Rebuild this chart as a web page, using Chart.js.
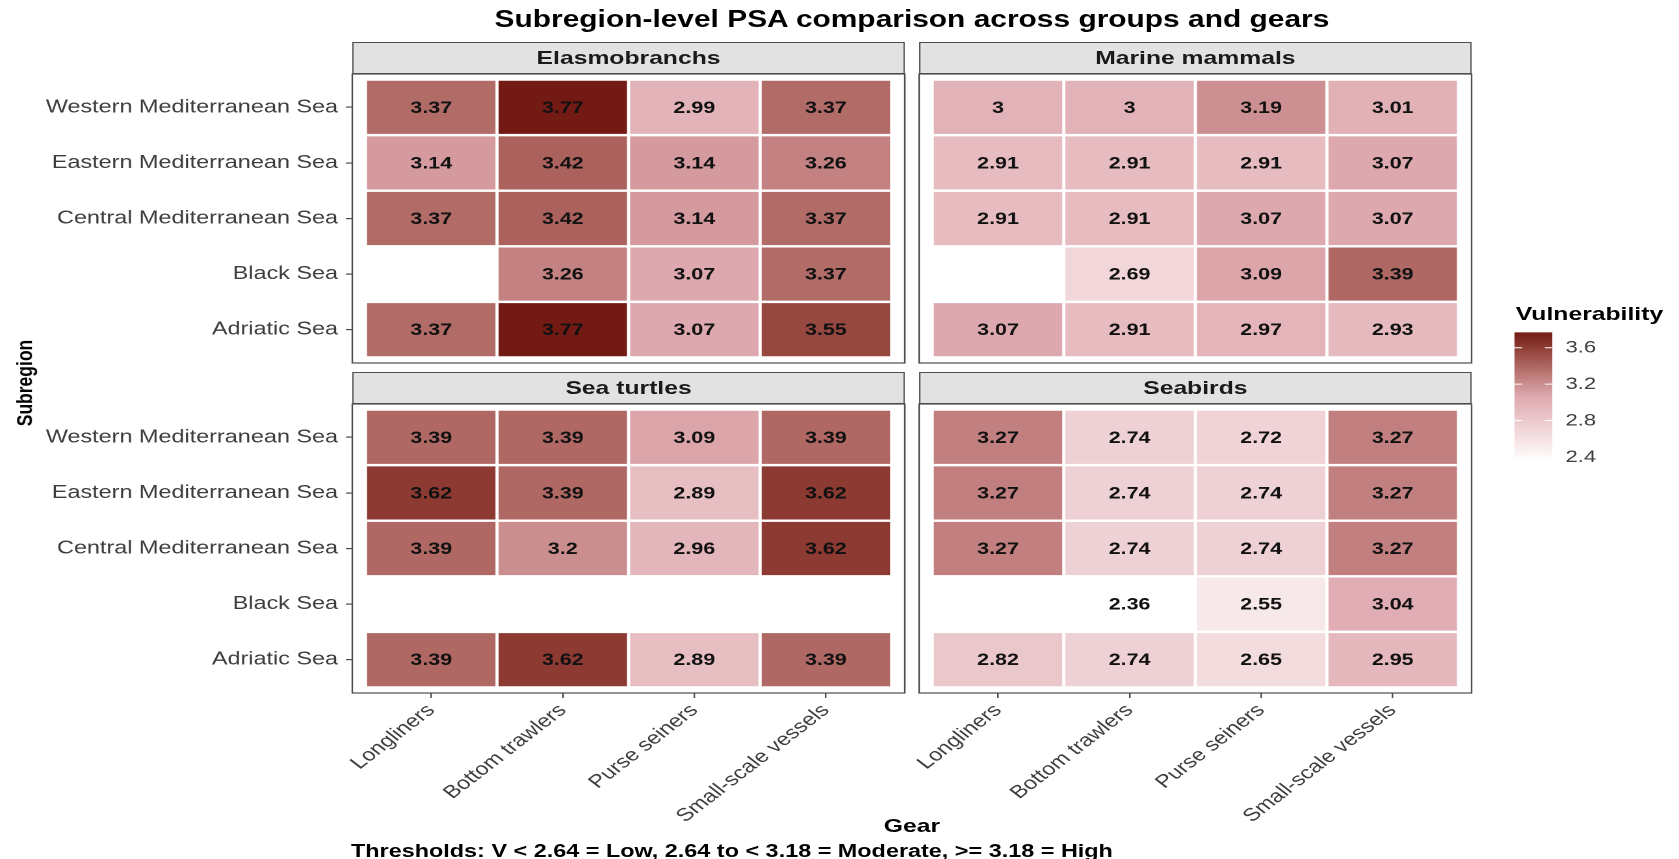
<!DOCTYPE html>
<html>
<head>
<meta charset="utf-8">
<title>Subregion-level PSA comparison</title>
<script src="https://cdn.jsdelivr.net/npm/chart.js@4.4.1/dist/chart.umd.min.js"></script>
<style>
    html, body { margin: 0; padding: 0; background: #fff; overflow: hidden; }
    body { width: 1679px; height: 859px; font-family: "Liberation Sans", Arial, sans-serif; }
    /* the reference picture is stretched sideways, so the whole page is laid out narrow and widened */
    #page { position: absolute; left: 0; top: 0; width: 1292px; height: 859px; transform: scaleX(1.3); transform-origin: 0 0; }
    .box { position: absolute; }
    .strip { position: absolute; box-sizing: border-box; width: 425px; height: 32px; line-height: 30px;
             background: #e2e2e2; border: 1px solid #4d4d4d; text-align: center;
             font-weight: bold; font-size: 19px; color: #1a1a1a; }
    .label { position: absolute; font-weight: bold; color: #000; white-space: nowrap; }
</style>
</head>
<body>
<div id="page">
    <div class="label" style="left:271px; width:861px; top:6px; line-height:26px; font-size:23px; text-align:center;">Subregion-level PSA comparison across groups and gears</div>

    <div class="strip" style="left:271px; top:42px;">Elasmobranchs</div>
    <div class="strip" style="left:707px; top:42px;">Marine mammals</div>
    <div class="strip" style="left:271px; top:372px;">Sea turtles</div>
    <div class="strip" style="left:707px; top:372px;">Seabirds</div>

    <canvas id="panel0" class="box" style="left:0; top:44px;" width="726" height="349"></canvas>
    <canvas id="panel1" class="box" style="left:607px; top:44px;" width="555" height="349"></canvas>
    <canvas id="panel2" class="box" style="left:0; top:374px;" width="726" height="469"></canvas>
    <canvas id="panel3" class="box" style="left:607px; top:374px;" width="555" height="469"></canvas>

    <div class="label" style="left:-81.5px; top:371px; width:200px; line-height:24px; font-size:17.5px; text-align:center; transform:rotate(-90deg);">Subregion</div>
    <div class="label" style="left:271px; width:861px; top:814px; line-height:24px; font-size:19px; text-align:center;">Gear</div>
    <div class="label" style="left:270px; top:839px; line-height:24px; font-size:18px;">Thresholds: V &lt; 2.64 = Low, 2.64 to &lt; 3.18 = Moderate, &gt;= 3.18 = High</div>

    <div class="label" style="left:1166px; top:302px; line-height:24px; font-size:19px;">Vulnerability</div>
    <canvas id="legendBar" class="box" style="left:1164.6px; top:312px;" width="90" height="169"></canvas>
</div>

<script>
const gears = ['Longliners', 'Bottom trawlers', 'Purse seiners', 'Small-scale vessels'];
const subregions = ['Western Mediterranean Sea', 'Eastern Mediterranean Sea', 'Central Mediterranean Sea', 'Black Sea', 'Adriatic Sea'];
const groups = ['Elasmobranchs', 'Marine mammals', 'Sea turtles', 'Seabirds'];

// rows follow subregions, columns follow gears; null = no assessment
const elasmobranchs = [
    [3.37, 3.77, 2.99, 3.37],
    [3.14, 3.42, 3.14, 3.26],
    [3.37, 3.42, 3.14, 3.37],
    [null, 3.26, 3.07, 3.37],
    [3.37, 3.77, 3.07, 3.55]
];
const marineMammals = [
    [3, 3, 3.19, 3.01],
    [2.91, 2.91, 2.91, 3.07],
    [2.91, 2.91, 3.07, 3.07],
    [null, 2.69, 3.09, 3.39],
    [3.07, 2.91, 2.97, 2.93]
];
const seaTurtles = [
    [3.39, 3.39, 3.09, 3.39],
    [3.62, 3.39, 2.89, 3.62],
    [3.39, 3.2, 2.96, 3.62],
    [null, null, null, null],
    [3.39, 3.62, 2.89, 3.39]
];
const seabirds = [
    [3.27, 2.74, 2.72, 3.27],
    [3.27, 2.74, 2.74, 3.27],
    [3.27, 2.74, 2.74, 3.27],
    [null, 2.36, 2.55, 3.04],
    [2.82, 2.74, 2.65, 2.95]
];
const legendTicks = [2.4, 2.8, 3.2, 3.6];

const FONT = '"Liberation Sans", Arial, sans-serif';
const TEXT_GREY = '#3d3d3d';
const LINE_GREY = '#4d4d4d';
const FILL_STOPS = [[0, '#ffffff'], [0.5, '#deaab0'], [1, '#731a14']];

const groupValues = [elasmobranchs, marineMammals, seaTurtles, seabirds];
const allValues = groupValues.flat(2).filter(v => v !== null);
const lo = Math.min(...allValues);
const hi = Math.max(...allValues);

function toLab(hex) {
    const c = [1, 3, 5].map(i => parseInt(hex.slice(i, i + 2), 16) / 255)
        .map(v => v <= 0.04045 ? v / 12.92 : Math.pow((v + 0.055) / 1.055, 2.4));
    const f = t => t > 0.008856 ? Math.cbrt(t) : 7.787 * t + 16 / 116;
    const x = f((0.4124 * c[0] + 0.3576 * c[1] + 0.1805 * c[2]) / 0.95047);
    const y = f(0.2126 * c[0] + 0.7152 * c[1] + 0.0722 * c[2]);
    const z = f((0.0193 * c[0] + 0.1192 * c[1] + 0.9505 * c[2]) / 1.08883);
    return [116 * y - 16, 500 * (x - y), 200 * (y - z)];
}

function fromLab(L, a, b) {
    const fy = (L + 16) / 116;
    const inv = t => t * t * t > 0.008856 ? t * t * t : (t - 16 / 116) / 7.787;
    const x = inv(fy + a / 500) * 0.95047, y = inv(fy), z = inv(fy - b / 200) * 1.08883;
    const lin = [
        3.2406 * x - 1.5372 * y - 0.4986 * z,
        -0.9689 * x + 1.8758 * y + 0.0415 * z,
        0.0557 * x - 0.2040 * y + 1.0570 * z
    ];
    const rgb = lin.map(v => {
        v = v <= 0.0031308 ? 12.92 * v : 1.055 * Math.pow(v, 1 / 2.4) - 0.055;
        return Math.round(Math.min(1, Math.max(0, v)) * 255);
    });
    return 'rgb(' + rgb.join(',') + ')';
}

const stopLabs = FILL_STOPS.map(s => [s[0], toLab(s[1])]);

function colourAt(t) {
    t = Math.min(1, Math.max(0, t));
    let k = 0;
    while (k < stopLabs.length - 2 && t > stopLabs[k + 1][0]) k++;
    const [t0, a] = stopLabs[k];
    const [t1, b] = stopLabs[k + 1];
    const u = (t - t0) / (t1 - t0);
    return fromLab(a[0] + (b[0] - a[0]) * u, a[1] + (b[1] - a[1]) * u, a[2] + (b[2] - a[2]) * u);
}

const fillColour = v => colourAt((v - lo) / (hi - lo));

const panelBorder = {
    id: 'panelBorder',
    afterDraw(chart) {
        const { ctx, chartArea: a } = chart;
        ctx.save();
        ctx.strokeStyle = LINE_GREY;
        ctx.lineWidth = 1.2;
        ctx.strokeRect(a.left, a.top, a.right - a.left, a.bottom - a.top);
        ctx.restore();
    }
};

const tileLabels = {
    id: 'tileLabels',
    afterDatasetsDraw(chart) {
        const { ctx } = chart;
        ctx.save();
        ctx.font = 'bold 16.5px ' + FONT;
        ctx.fillStyle = '#111';
        ctx.textAlign = 'center';
        ctx.textBaseline = 'middle';
        chart.data.datasets.forEach((ds, i) => {
            chart.getDatasetMeta(i).data.forEach((bar, j) => {
                const p = bar.getCenterPoint();
                ctx.fillText(String(ds.data[j].v), p.x, p.y + 1);
            });
        });
        ctx.restore();
    }
};

function panelChart(index) {
    const values = groupValues[index];
    const showY = index % 2 === 0;
    const showX = index >= 2;

    const datasets = subregions.map((region, r) => ({
        label: region,
        data: gears.map((g, i) => ({ x: i + 1, y: [r + 0.5, r + 1.5], v: values[r][i] }))
            .filter(d => d.v !== null),
        backgroundColor: ctx => ctx.raw ? fillColour(ctx.raw.v) : '#fff',
        borderColor: '#ffffff',
        borderWidth: 1.2,
        borderSkipped: false,
        inflateAmount: 0,
        categoryPercentage: 1,
        barPercentage: 1,
        grouped: false
    }));

    const axisGrid = {
        offset: false,
        drawOnChartArea: false,
        drawTicks: true,
        tickLength: 5,
        color: LINE_GREY,
        lineWidth: 1.2
    };

    new Chart(document.getElementById('panel' + index), {
        type: 'bar',
        data: { datasets },
        options: {
            responsive: false,
            animation: false,
            devicePixelRatio: 2,
            layout: { padding: { top: 30, right: 30, bottom: showX ? 0 : 30, left: showY ? 0 : 100 } },
            plugins: { legend: { display: false }, tooltip: { enabled: false } },
            scales: {
                x: {
                    type: 'linear',
                    min: 0.4,
                    max: 4.6,
                    offset: false,
                    display: showX,
                    afterBuildTicks: scale => { scale.ticks = gears.map((g, i) => ({ value: i + 1 })); },
                    afterFit: scale => { if (showX) scale.height = 150; },
                    ticks: {
                        autoSkip: false,
                        minRotation: 45,
                        maxRotation: 45,
                        padding: 2,
                        color: TEXT_GREY,
                        font: { family: FONT, size: 18 },
                        callback: v => gears[v - 1]
                    },
                    grid: axisGrid,
                    border: { display: false }
                },
                y: {
                    type: 'linear',
                    min: 0.4,
                    max: 5.6,
                    reverse: true,
                    offset: false,
                    display: showY,
                    afterBuildTicks: scale => { scale.ticks = subregions.map((s, i) => ({ value: i + 1 })); },
                    afterFit: scale => { if (showY) scale.width = 271; },
                    ticks: {
                        autoSkip: false,
                        padding: 6,
                        color: TEXT_GREY,
                        font: { family: FONT, size: 18 },
                        callback: v => subregions[v - 1]
                    },
                    grid: axisGrid,
                    border: { display: false }
                }
            }
        },
        plugins: [tileLabels, panelBorder]
    });
}

groups.forEach((g, i) => panelChart(i));

// colour bar guide
const colourbarTicks = {
    id: 'colourbarTicks',
    afterDatasetsDraw(chart) {
        const { ctx, chartArea: a } = chart;
        const len = (a.right - a.left) / 5;
        ctx.save();
        ctx.strokeStyle = '#ffffff';
        ctx.lineWidth = 1;
        legendTicks.forEach(v => {
            const y = chart.scales.y.getPixelForValue(v);
            ctx.beginPath();
            ctx.moveTo(a.left, y); ctx.lineTo(a.left + len, y);
            ctx.moveTo(a.right - len, y); ctx.lineTo(a.right, y);
            ctx.stroke();
        });
        ctx.restore();
    }
};

new Chart(document.getElementById('legendBar'), {
    type: 'bar',
    data: {
        labels: ['Vulnerability'],
        datasets: [{
            data: [[lo, hi]],
            backgroundColor: ctx => {
                const area = ctx.chart.chartArea;
                if (!area) return '#fff';
                const g = ctx.chart.ctx.createLinearGradient(0, area.bottom, 0, area.top);
                for (let i = 0; i <= 24; i++) g.addColorStop(i / 24, colourAt(i / 24));
                return g;
            },
            borderWidth: 0,
            inflateAmount: 0,
            categoryPercentage: 1,
            barPercentage: 1
        }]
    },
    options: {
        responsive: false,
        animation: false,
        devicePixelRatio: 2,
        layout: { padding: { top: 20, bottom: 20, left: 0, right: 0 } },
        plugins: { legend: { display: false }, tooltip: { enabled: false } },
        scales: {
            x: { display: false },
            y: {
                position: 'right',
                min: lo,
                max: hi,
                afterBuildTicks: scale => { scale.ticks = legendTicks.map(v => ({ value: v })); },
                afterFit: scale => { scale.width = 60.8; },
                ticks: {
                    padding: 10,
                    color: TEXT_GREY,
                    font: { family: FONT, size: 17 },
                    callback: v => v.toFixed(1)
                },
                grid: { display: false, drawTicks: false },
                border: { display: false }
            }
        }
    },
    plugins: [colourbarTicks]
});
</script>
</body>
</html>
